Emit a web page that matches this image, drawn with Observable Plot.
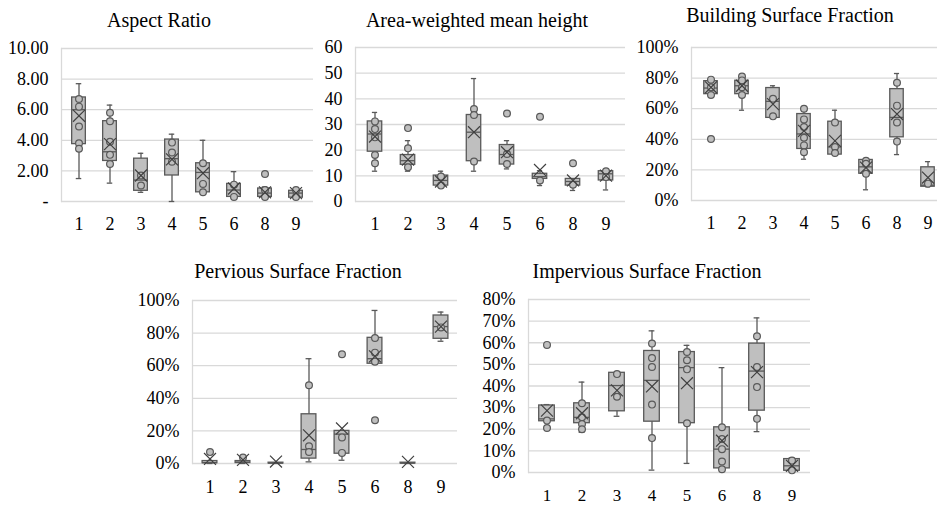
<!DOCTYPE html>
<html><head><meta charset="utf-8">
<script src="https://cdn.jsdelivr.net/npm/d3@7"></script>
<script src="https://cdn.jsdelivr.net/npm/@observablehq/plot@0.6"></script>
<style>
html,body{margin:0;padding:0;background:#fff;overflow:hidden;width:937px;height:505px;}
#root{position:relative;width:937px;height:505px;overflow:hidden;font-family:"Liberation Serif","Times New Roman",Tinos,"DejaVu Serif",serif;color:#000;}
.title{position:absolute;font-size:20px;line-height:20px;white-space:nowrap;transform:translateX(-50%);color:#000;}
.panel{position:absolute;}
.panel svg text{font-family:"Liberation Serif","Times New Roman",Tinos,"DejaVu Serif",serif;}
</style></head><body><div id="root"></div>
<script>
const cats = ["1","2","3","4","5","6","8","9"];

// stats rows: [category, whiskerLow, q1, median, q3, whiskerHigh, mean]
const aspectStats = [
  ["1", 1.5, 3.75, 6.0, 6.8, 7.7, 5.6],
  ["2", 1.2, 2.65, 3.25, 5.25, 6.3, 3.75],
  ["3", 0.6, 0.7, 1.4, 2.8, 3.15, 1.7],
  ["4", 0.0, 1.7, 2.8, 4.05, 4.4, 2.75],
  ["5", 0.6, 0.6, 1.9, 2.5, 4.0, 1.85],
  ["6", 0.25, 0.3, 0.75, 1.15, 1.95, 0.85],
  ["8", 0.25, 0.3, 0.55, 0.85, 0.95, 0.6],
  ["9", 0.2, 0.25, 0.55, 0.7, 0.8, 0.55]
];
const aspectPoints = [
  ["1",6.7],["1",6.2],["1",4.9],["1",3.8],["1",3.45],
  ["2",5.8],["2",5.25],["2",3.9],["2",3.05],["2",2.45],
  ["3",1.7],["3",1.05],
  ["4",3.85],["4",3.2],["4",2.6],
  ["5",2.5],["5",1.15],["5",0.6],
  ["6",1.1],["6",0.3],
  ["8",1.8],["8",0.75],["8",0.3],
  ["9",0.75],["9",0.3]
];
const aspectTicks = [0, 2, 4, 6, 8, 10];
const aspectLabels = ["-", "2.00", "4.00", "6.00", "8.00", "10.00"];

const heightStats = [
  ["1", 11.8, 19.4, 26.3, 31.2, 34.7, 25.3],
  ["2", 11.8, 14.3, 15.9, 18.1, 23.7, 16.3],
  ["3", 5.6, 6.2, 8.2, 10.1, 11.8, 7.8],
  ["4", 11.8, 15.7, 27.0, 33.7, 47.9, 27.0],
  ["5", 12.7, 14.4, 18.3, 22.0, 23.7, 19.2],
  ["6", 6.2, 8.8, 9.7, 10.8, 12.0, 12.3],
  ["8", 4.3, 6.2, 7.8, 8.8, 8.8, 8.2],
  ["9", 4.5, 8.2, 10.8, 11.8, 12.3, 10.1]
];
const heightPoints = [
  ["1",31.2],["1",28.2],["1",25.0],["1",18.1],["1",14.9],
  ["2",28.6],["2",20.7],["2",13.3],
  ["3",9.7],["3",6.2],
  ["4",36.0],["4",33.7],["4",15.6],
  ["5",34.3],["5",18.5],["5",14.6],
  ["6",33.0],["6",8.2],
  ["8",14.9],["8",6.5],
  ["9",11.8],["9",9.5]
];
const heightTicks = [0, 10, 20, 30, 40, 50, 60];
const heightLabels = ["0", "10", "20", "30", "40", "50", "60"];

const buildingStats = [
  ["1", 68.5, 69.5, 73.5, 78.0, 79.5, 74.0],
  ["2", 59.0, 69.5, 75.0, 78.3, 81.5, 75.0],
  ["3", 54.0, 54.0, 64.8, 73.5, 75.0, 63.0],
  ["4", 27.0, 33.7, 43.5, 56.5, 61.0, 45.5],
  ["5", 30.0, 30.0, 35.0, 51.5, 59.0, 39.0],
  ["6", 7.0, 17.5, 22.0, 26.5, 27.0, 21.5],
  ["8", 30.0, 41.3, 54.3, 72.8, 83.0, 56.5],
  ["9", 9.0, 9.0, 10.0, 21.7, 25.4, 15.0]
];
const buildingPoints = [
  ["1",40.2],["1",79.0],["1",74.0],["1",69.0],
  ["2",81.0],["2",78.5],["2",74.0],["2",69.0],
  ["3",66.5],["3",55.0],
  ["4",60.0],["4",53.0],["4",48.0],["4",41.0],["4",36.0],["4",31.5],
  ["5",51.0],["5",35.0],["5",31.0],
  ["6",26.0],["6",24.0],["6",17.5],
  ["8",77.0],["8",62.0],["8",51.0],["8",38.5],
  ["9",11.0]
];
const pctTicks = [0, 20, 40, 60, 80, 100];
const pctLabels = ["0%", "20%", "40%", "60%", "80%", "100%"];

const perviousStats = [
  ["1", 0.0, 0.2, 0.5, 1.5, 1.5, 2.8],
  ["2", 0.0, 0.3, 0.8, 1.5, 1.5, 2.2],
  ["3", 0.0, 0.0, 0.2, 0.5, 0.5, 1.2],
  ["4", 1.0, 3.0, 8.6, 30.2, 64.3, 17.3],
  ["5", 2.0, 6.0, 18.0, 20.0, 20.0, 21.5],
  ["6", 61.2, 61.2, 64.3, 77.1, 93.9, 65.7],
  ["8", 0.0, 0.0, 0.2, 0.5, 0.5, 1.0],
  ["9", 75.0, 76.5, 84.0, 90.8, 92.9, 84.0]
];
const perviousPoints = [
  ["1",7.0],["2",3.7],
  ["4",48.0],["4",10.6],["4",7.1],
  ["5",67.0],["5",16.0],["5",6.5],
  ["6",26.5],["6",77.0],["6",68.0],["6",62.5],
  ["9",83.5]
];

const imperviousStats = [
  ["1", 20.6, 23.7, 24.8, 31.0, 31.4, 28.6],
  ["2", 18.6, 22.8, 25.5, 32.0, 41.8, 27.4],
  ["3", 26.0, 28.3, 40.2, 46.1, 46.1, 38.0],
  ["4", 1.1, 23.5, 42.6, 56.2, 65.5, 39.8],
  ["5", 4.2, 22.8, 48.5, 55.7, 58.8, 41.3],
  ["6", 1.5, 1.9, 10.8, 20.9, 48.5, 14.7],
  ["8", 18.9, 28.6, 46.9, 59.6, 71.5, 46.4],
  ["9", 0.5, 0.8, 3.1, 6.2, 6.7, 3.1]
];
const imperviousPoints = [
  ["1",59.0],["1",24.0],["1",20.6],
  ["2",32.0],["2",25.5],["2",22.4],["2",20.0],
  ["3",45.5],["3",35.0],
  ["4",59.6],["4",52.9],["4",48.8],["4",31.4],["4",15.9],
  ["5",55.7],["5",51.9],["5",47.7],["5",22.8],
  ["6",20.9],["6",15.5],["6",10.8],["6",5.1],["6",1.5],
  ["8",63.0],["8",48.8],["8",39.5],["8",24.8],
  ["9",5.5],["9",1.0]
];
const imperTicks = [0, 10, 20, 30, 40, 50, 60, 70, 80];
const imperLabels = ["0%", "10%", "20%", "30%", "40%", "50%", "60%", "70%", "80%"];

const root = document.getElementById("root");
const BOX = "#bfbfbf", LINE = "#595959", GRID = "#d9d9d9";
const FONT = '"Liberation Serif","Times New Roman",Tinos,"DejaVu Serif",serif';

function drawPanel(cfg) {
  const {title, titleX, titleY, stats, points, ticks, labels, area, xPad, xFont} = cfg;
  const [xl, xr, yt, yb] = area;
  const mL = 61, mR = 6, mT = 12, mB = 36;
  const w = xr - xl + mL + mR, h = yb - yt + mT + mB;
  const bw = (xr - xl) / cats.length;
  const boxInset = bw * 0.275, capInset = (bw - 6) / 2;
  const rows = stats.map(([cat, lo, q1, med, q3, hi, mean]) => ({cat, lo, q1, med, q3, hi, mean}));
  const pts = points.map(([cat, v]) => ({cat, v}));
  const fmt = new Map(ticks.map((t, i) => [t, labels[i]]));
  const svg = Plot.plot({
    width: w, height: h, marginLeft: mL, marginRight: mR, marginTop: mT, marginBottom: mB,
    style: {fontFamily: FONT, fontSize: "18px", color: "#000", background: "transparent", maxWidth: "none", overflow: "visible"},
    x: {type: "band", domain: cats, padding: 0, axis: null},
    y: {domain: [ticks[0], ticks[ticks.length - 1]], axis: null},
    marks: [
      Plot.gridY(ticks, {stroke: GRID, strokeOpacity: 1, strokeWidth: 1.3}),
      Plot.frame({anchor: "left", stroke: GRID, strokeWidth: 1.3}),
      Plot.axisY(ticks, {tickSize: 0, tickPadding: 13, tickFormat: d => fmt.get(d), label: null, fontSize: 18}),
      Plot.axisX(cats, {tickSize: 0, tickPadding: xPad, label: null, fontSize: xFont || 18}),
      Plot.ruleX(rows, {x: "cat", y1: "lo", y2: "hi", stroke: LINE, strokeWidth: 1.3}),
      Plot.tickY(rows, {x: "cat", y: "hi", insetLeft: capInset, insetRight: capInset, stroke: LINE, strokeWidth: 1.3}),
      Plot.tickY(rows, {x: "cat", y: "lo", insetLeft: capInset, insetRight: capInset, stroke: LINE, strokeWidth: 1.3}),
      Plot.barY(rows, {x: "cat", y1: "q1", y2: "q3", fill: BOX, stroke: LINE, strokeWidth: 1.3, insetLeft: boxInset, insetRight: boxInset}),
      Plot.tickY(rows, {x: "cat", y: "med", insetLeft: boxInset, insetRight: boxInset, stroke: LINE, strokeWidth: 1.3}),
      Plot.dot(pts, {x: "cat", y: "v", r: 3.4, fill: BOX, stroke: LINE, strokeWidth: 1.2}),
      Plot.dot(rows, {x: "cat", y: "mean", symbol: "times", r: 5.5, stroke: "#404040", strokeWidth: 1.2})
    ]
  });
  const div = document.createElement("div");
  div.className = "panel";
  div.style.left = (xl - mL) + "px";
  div.style.top = (yt - mT) + "px";
  div.style.width = w + "px";
  div.style.height = h + "px";
  div.appendChild(svg);
  root.appendChild(div);
  const t = document.createElement("div");
  t.className = "title";
  t.textContent = title;
  t.style.left = titleX + "px";
  t.style.top = (titleY - 10) + "px";
  root.appendChild(t);
}

drawPanel({title: "Aspect Ratio", titleX: 159, titleY: 20, stats: aspectStats, points: aspectPoints,
  ticks: aspectTicks, labels: aspectLabels, area: [61, 313, 48, 201], xPad: 16});
drawPanel({title: "Area-weighted mean height", titleX: 477, titleY: 20, stats: heightStats, points: heightPoints,
  ticks: heightTicks, labels: heightLabels, area: [355, 625, 47, 201], xPad: 16});
drawPanel({title: "Building Surface Fraction", titleX: 790, titleY: 15, stats: buildingStats, points: buildingPoints,
  ticks: pctTicks, labels: pctLabels, area: [691, 946, 47, 200], xPad: 16});
drawPanel({title: "Pervious Surface Fraction", titleX: 298, titleY: 271, stats: perviousStats, points: perviousPoints,
  ticks: pctTicks, labels: pctLabels, area: [192, 457, 300, 463], xPad: 17});
drawPanel({title: "Impervious Surface Fraction", titleX: 647, titleY: 271, stats: imperviousStats, points: imperviousPoints,
  ticks: imperTicks, labels: imperLabels, area: [528, 810, 299, 472], xPad: 16, xFont: 17});
</script>
</body></html>
